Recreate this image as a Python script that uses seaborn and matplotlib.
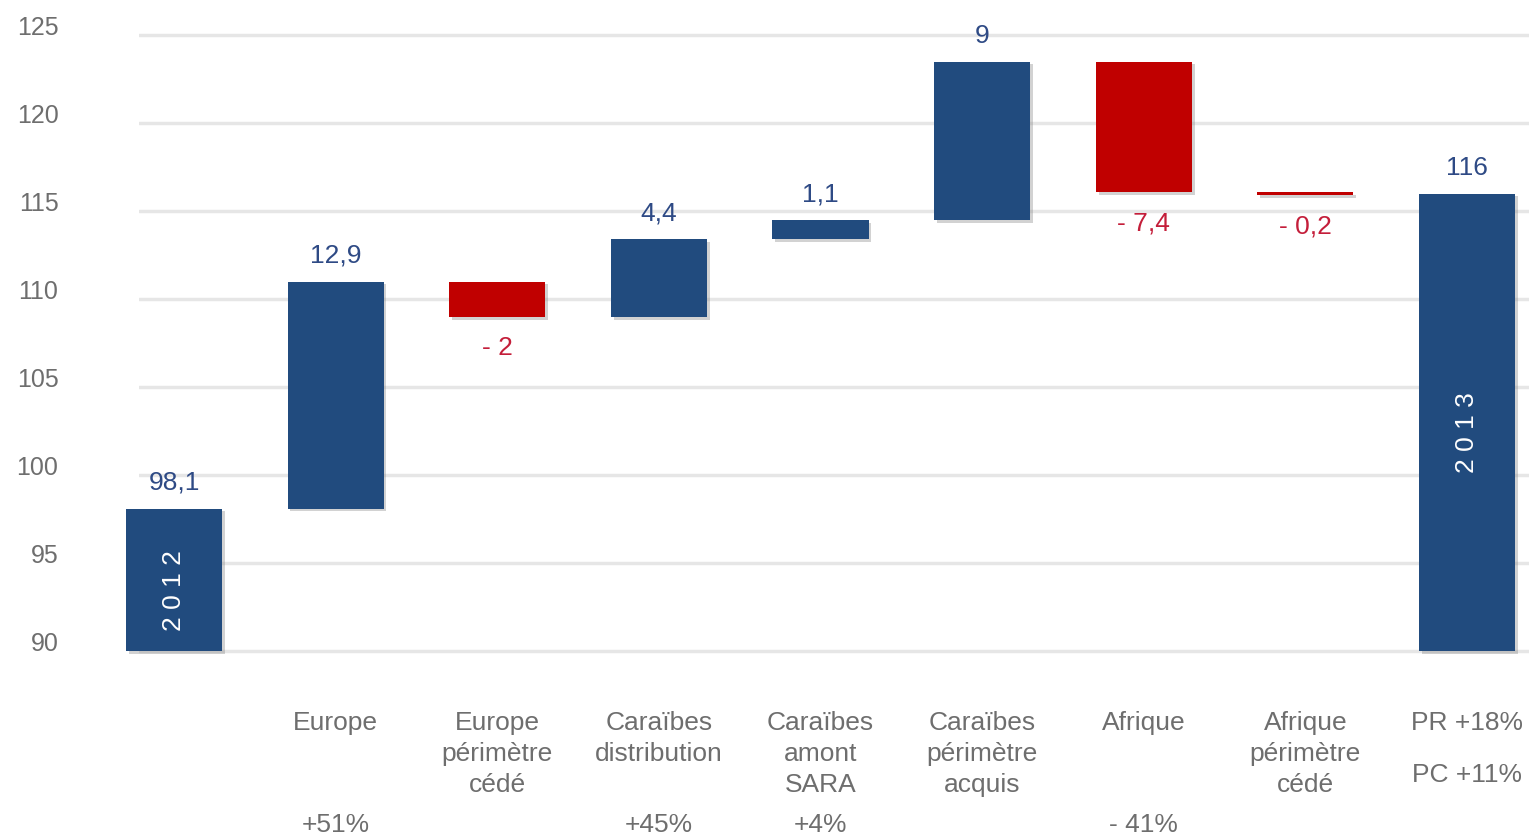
"""
Waterfall: evolution 2012 -> 2013 by zone.
"""
import matplotlib
matplotlib.use('Agg')
import matplotlib.pyplot as plt
import matplotlib.patheffects as pe
import matplotlib.transforms as mtransforms
import numpy as np
import seaborn as sns

# --- data -------------------------------------------------------------
steps = ["2012", "Europe", "Europe périmètre cédé", "Caraïbes distribution",
         "Caraïbes amont SARA", "Caraïbes périmètre acquis", "Afrique",
         "Afrique périmètre cédé", "2013"]
deltas = [98.1, 12.9, -2.0, 4.4, 1.1, 9.0, -7.4, -0.2, 116.0]
is_total = [True, False, False, False, False, False, False, False, True]
value_labels = ["98,1", "12,9", "- 2", "4,4", "1,1", "9", "- 7,4", "- 0,2", "116"]
tick_labels = ["", "Europe", "Europe\npérimètre\ncédé", "Caraïbes\ndistribution",
               "Caraïbes\namont\nSARA", "Caraïbes\npérimètre\nacquis", "Afrique",
               "Afrique\npérimètre\ncédé", "PR +18%\nPC +11%"]
growth_labels = ["", "+51%", "", "+45%", "+4%", "", "- 41%", "", ""]
year_labels = {"2012": "2 0 1 2", "2013": "2 0 1 3"}
y_ticks = [90, 95, 100, 105, 110, 115, 120, 125]
axis_floor = 90

BLUE = "#214b7e"
RED = "#c00000"
BLUE_TXT = "#2e4a85"
RED_TXT = "#c41e3a"
GREY_TXT = "#6e6e6e"

# waterfall geometry from the deltas
bottoms, heights, colors = [], [], []
level = 0.0
for d, tot in zip(deltas, is_total):
    if tot:
        bottoms.append(axis_floor)
        heights.append(d - axis_floor)
        level = d
        colors.append(BLUE)
    else:
        new = level + d
        bottoms.append(min(level, new))
        heights.append(abs(d))
        colors.append(BLUE if d >= 0 else RED)
        level = new
bottoms = np.array(bottoms)
heights = np.array(heights)

# --- plot -------------------------------------------------------------
sns.set_style("white")
plt.rcParams['font.family'] = ['Liberation Sans', 'DejaVu Sans']

fig = plt.figure(figsize=(15.29, 8.40), dpi=100)
ax = fig.add_axes([139 / 1529, 180 / 840, 1 - 139 / 1529, 630 / 840])

shadow = [pe.SimplePatchShadow(offset=(2, -2), shadow_rgbFace="#7f7f7f", alpha=0.35),
          pe.Normal()]
sns.barplot(x=steps, y=heights, color=BLUE, saturation=1, width=0.594,
            errorbar=None, ax=ax,
            bottom=bottoms, facecolor=colors, linewidth=0, clip_on=False,
            zorder=3, path_effects=shadow)

ax.set_xlim(-(174 - 139) / 161.6, 8 + (1529 - 1467) / 161.6)
ax.set_ylim(89.5, 125.3)

# grid
ax.set_axisbelow(True)
ax.yaxis.grid(True, color="#e6e6e6", linewidth=2.5)
ax.xaxis.grid(False)
for sp in ax.spines.values():
    sp.set_visible(False)

# y ticks, nudged up a little as in the original
ax.set_yticks(y_ticks)
ax.tick_params(axis="y", length=0, pad=58, labelsize=18, labelcolor=GREY_TXT)
shift = mtransforms.ScaledTranslation(0, 0.10, fig.dpi_scale_trans)
for lab in ax.get_yticklabels():
    lab.set_transform(lab.get_transform() + shift)

# x tick labels
ax.set_xticks(range(len(steps)))
ax.set_xticklabels(tick_labels, fontsize=19, color=GREY_TXT, linespacing=1.35)
ax.tick_params(axis="x", length=0, pad=37)
ax.get_xticklabels()[-1].set_linespacing(2.45)
ax.set_xlabel("")
ax.set_ylabel("")

# value labels
for i, (b, h, lab) in enumerate(zip(bottoms, heights, value_labels)):
    neg = (not is_total[i]) and deltas[i] < 0
    if neg:
        ax.annotate(lab, (i, b), xytext=(0, -14), textcoords="offset points",
                    ha="center", va="top", fontsize=19, color=RED_TXT)
    else:
        ax.annotate(lab, (i, b + h), xytext=(0, 10), textcoords="offset points",
                    ha="center", va="bottom", fontsize=19, color=BLUE_TXT)

# year inside the total bars
for i, s in enumerate(steps):
    if s in year_labels:
        ax.text(i, bottoms[i] + heights[i] / 2 - 0.6, year_labels[s], rotation=90,
                ha="center", va="center", fontsize=19, color="white", zorder=5)

# growth percentages under the categories
for i, g in enumerate(growth_labels):
    if g:
        ax.text(i, -0.262, g, transform=ax.get_xaxis_transform(),
                ha="center", va="center", fontsize=19, color=GREY_TXT)

plt.savefig("out.png", dpi=100)
plt.close()
